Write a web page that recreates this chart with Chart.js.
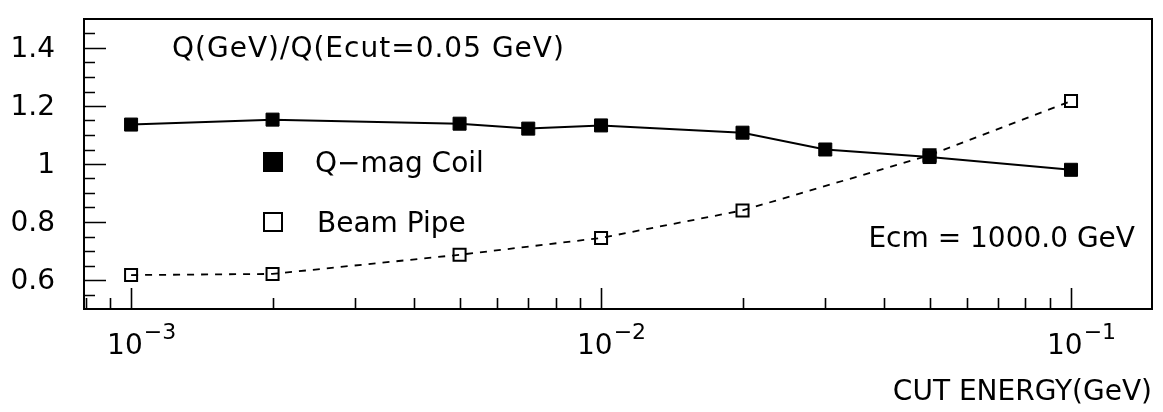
<!DOCTYPE html>
<html><head><meta charset="utf-8">
<script src="https://cdn.jsdelivr.net/npm/chart.js@4.4.1/dist/chart.umd.min.js"></script>
<style>html,body{margin:0;padding:0;background:#fff;}canvas{display:block;}</style>
</head><body>
<canvas id="c" width="1163" height="412"></canvas>
<script>
// ---- data ----
const coilEnergy = [0.001, 0.002, 0.005, 0.007, 0.01, 0.02, 0.03, 0.05, 0.1];
const coilRatio  = [1.136, 1.153, 1.139, 1.122, 1.133, 1.108, 1.050, 1.024, 0.980];
const pipeEnergy = [0.001, 0.002, 0.005, 0.01, 0.02, 0.05, 0.1];
const pipeRatio  = [0.617, 0.621, 0.687, 0.745, 0.840, 1.030, 1.217];
const yTickValues = [0.6, 0.8, 1, 1.2, 1.4];
const xDecades = [1e-3, 1e-2, 1e-1];
const xDecadeExponents = ['\u22123', '\u22122', '\u22121'];
const seriesNames = ['Q\u2212mag Coil', 'Beam Pipe'];
const plotNote = 'Q(GeV)/Q(Ecut=0.05 GeV)';
const energyNote = 'Ecm = 1000.0 GeV';
const xTitle = 'CUT ENERGY(GeV)';

const FONT = '"DejaVu Sans", sans-serif';

const deco = {
  id: 'deco',
  afterDraw(chart) {
    const {ctx, chartArea: a, scales: {x, y}} = chart;
    ctx.save();
    ctx.strokeStyle = '#000';
    ctx.fillStyle = '#000';
    // frame
    ctx.lineWidth = 2;
    ctx.strokeRect(a.left, a.top, a.right - a.left, a.bottom - a.top);
    // inner ticks
    ctx.lineWidth = 1.6;
    ctx.beginPath();
    for (let i = 11; i <= 29; i++) {
      const v = i * 0.05;
      const py = Math.round(y.getPixelForValue(v)) + 0.5;
      const len = (i % 4 === 0) ? 22 : 11;
      ctx.moveTo(a.left, py); ctx.lineTo(a.left + len, py);
    }
    for (let n = -4; n <= -1; n++) {
      for (let k = 1; k <= 9; k++) {
        const v = k * Math.pow(10, n);
        if (v <= x.min || v >= x.max) continue;
        const px = Math.round(x.getPixelForValue(v)) + 0.5;
        const len = (k === 1) ? 21 : 11;
        ctx.moveTo(px, a.bottom); ctx.lineTo(px, a.bottom - len);
      }
    }
    ctx.stroke();
    // x decade labels 10^n
    ctx.textBaseline = 'alphabetic';
    ctx.textAlign = 'left';
    xDecades.forEach((v, i) => {
      const px = x.getPixelForValue(v);
      ctx.font = '28px ' + FONT;
      const w = ctx.measureText('10').width;
      const sx = px - 24;
      ctx.fillText('10', sx, 354);
      ctx.font = '22px ' + FONT;
      ctx.fillText(xDecadeExponents[i], sx + w + 1, 339);
    });
    // notes
    ctx.font = '28px ' + FONT;
    ctx.letterSpacing = '1px';
    ctx.fillText(plotNote, 172, 57);
    ctx.letterSpacing = '0px';
    ctx.textAlign = 'right';
    ctx.fillText(energyNote, 1135, 247);
    // legend
    ctx.textAlign = 'left';
    ctx.fillRect(263, 152, 20, 20);
    ctx.fillText(seriesNames[0], 315, 172);
    ctx.lineWidth = 2;
    ctx.strokeRect(264, 213, 18, 18);
    ctx.fillText(seriesNames[1], 317, 232);
    ctx.restore();
  }
};

const coilData = coilEnergy.map((e, i) => ({x: e, y: coilRatio[i]}));
const pipeData = pipeEnergy.map((e, i) => ({x: e, y: pipeRatio[i]}));

new Chart(document.getElementById('c'), {
  type: 'line',
  data: {
    datasets: [
      {
        label: seriesNames[0], data: coilData, order: 0,
        borderColor: '#000', borderWidth: 2, tension: 0,
        pointStyle: 'rect', pointRadius: 9.2, pointBackgroundColor: '#000',
        pointBorderColor: '#000', pointBorderWidth: 1
      },
      {
        label: seriesNames[1], data: pipeData, order: 1,
        borderColor: '#000', borderWidth: 1.8, borderDash: [7, 7], tension: 0,
        pointStyle: 'rect', pointRadius: 8.5, pointBackgroundColor: 'rgba(0,0,0,0)',
        pointBorderColor: '#000', pointBorderWidth: 2
      }
    ]
  },
  options: {
    responsive: false,
    devicePixelRatio: 1,
    animation: false,
    layout: {autoPadding: false, padding: {top: 19, right: 11, left: 0, bottom: 0}},
    plugins: {legend: {display: false}, tooltip: {enabled: false}},
    scales: {
      x: {
        type: 'logarithmic', min: 0.000794, max: 0.1487,
        grid: {display: false, drawTicks: false},
        border: {display: false},
        ticks: {display: false},
        title: {display: true, text: xTitle, align: 'end', color: '#000',
                font: {family: FONT, size: 28}, padding: {top: 0, bottom: 2}},
        afterFit: s => { s.height = 103; s.paddingLeft = 0; s.paddingRight = 0; }
      },
      y: {
        min: 0.5, max: 1.5,
        grid: {display: false, drawTicks: false},
        border: {display: false},
        afterBuildTicks: s => { s.ticks = yTickValues.map(v => ({value: v})); },
        ticks: {
          color: '#000', padding: 29, autoSkip: false, labelOffset: 2,
          font: {family: FONT, size: 28},
          callback: v => String(Math.round(v * 10) / 10)
        },
        afterFit: s => { s.width = 84; s.paddingTop = 0; s.paddingBottom = 0; }
      }
    }
  },
  plugins: [deco]
});
</script>
</body></html>
